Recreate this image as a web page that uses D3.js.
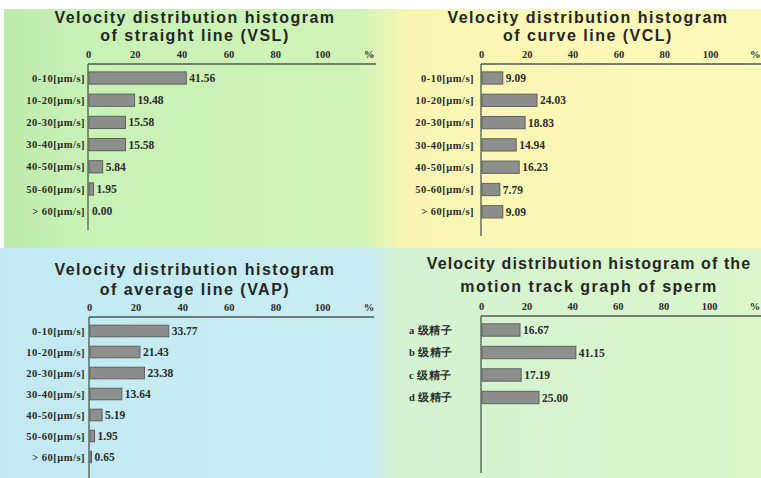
<!DOCTYPE html>
<html lang="en">
<head>
<meta charset="utf-8">
<title>Velocity distribution histograms</title>
<script src="https://cdn.jsdelivr.net/npm/d3@7"></script>
<style>
  body { margin: 0; background: #fff; }
  svg { display: block; }
  .title { font-family: "Liberation Sans", Arial, sans-serif; font-weight: bold; fill: #262626; }
  .tick-lbl, .cat-lbl, .val-lbl { font-family: "Liberation Serif", "Times New Roman", serif; fill: #2b2b2b; }
</style>
</head>
<body>
<div id="chart"></div>
<script>
// bins shared by VSL / VCL / VAP
var speedBins = ["0-10[μm/s]", "10-20[μm/s]", "20-30[μm/s]", "30-40[μm/s]", "40-50[μm/s]", "50-60[μm/s]", "> 60[μm/s]"];
var vslValues = [41.56, 19.48, 15.58, 15.58, 5.84, 1.95, 0.00];
var vclValues = [9.09, 24.03, 18.83, 14.94, 16.23, 7.79, 9.09];
var vapValues = [33.77, 21.43, 23.38, 13.64, 5.19, 1.95, 0.65];
var gradeLabels = ["a 级精子", "b 级精子", "c 级精子", "d 级精子"];
var gradeValues = [16.67, 41.15, 17.19, 25.00];
var tickValues = [0, 20, 40, 60, 80, 100, 120];   // last tick drawn as "%"

var w = 761, h = 478;

var svg = d3.select("#chart").append("svg")
  .attr("width", w)
  .attr("height", h);

// backgrounds (soft gradients between quadrants)
var defs = svg.append("defs");
var gTop = defs.append("linearGradient").attr("id", "bgTop").attr("x1", 0).attr("x2", 1);
gTop.append("stop").attr("offset", "0%").attr("stop-color", "#bdebab");
gTop.append("stop").attr("offset", "10%").attr("stop-color", "#c8f1b6");
gTop.append("stop").attr("offset", "47%").attr("stop-color", "#cff3b6");
gTop.append("stop").attr("offset", "53%").attr("stop-color", "#f9f6b4");
gTop.append("stop").attr("offset", "100%").attr("stop-color", "#fdf9b9");
var gBot = defs.append("linearGradient").attr("id", "bgBot").attr("x1", 0).attr("x2", 1);
gBot.append("stop").attr("offset", "0%").attr("stop-color", "#c2e9f3");
gBot.append("stop").attr("offset", "49%").attr("stop-color", "#c8ecf1");
gBot.append("stop").attr("offset", "52%").attr("stop-color", "#d4f2d2");
gBot.append("stop").attr("offset", "100%").attr("stop-color", "#daf6ca");

svg.append("rect").attr("x", 4).attr("y", 9).attr("width", w - 4).attr("height", 240).attr("fill", "url(#bgTop)");
svg.append("rect").attr("x", 0).attr("y", 248).attr("width", w).attr("height", h - 248).attr("fill", "url(#bgBot)");

var panels = [
  { title: ["Velocity distribution histogram", "of straight line (VSL)"], titleX: 195, titleY: [23, 41],
    cats: speedBins, vals: vslValues, x0: 88, x100: 322, axisY: 64, axisEnd: 376, c0: 78, step: 22.2, vEnd: 230, labelX: 85, anchor: "end" },
  { title: ["Velocity distribution histogram", "of curve line (VCL)"], titleX: 588, titleY: [23, 41],
    cats: speedBins, vals: vclValues, x0: 481, x100: 710, axisY: 64, axisEnd: 761, c0: 78, step: 22.3, vEnd: 236, labelX: 474, anchor: "end" },
  { title: ["Velocity distribution histogram", "of average line (VAP)"], titleX: 195, titleY: [275, 295],
    cats: speedBins, vals: vapValues, x0: 89, x100: 322, axisY: 317, axisEnd: 374, c0: 331, step: 21, vEnd: 478, labelX: 85, anchor: "end" },
  { title: ["Velocity distribution histogram of the", "motion track graph of sperm"], titleX: 589, titleY: [269, 292],
    cats: gradeLabels, vals: gradeValues, x0: 481, x100: 709, axisY: 316, axisEnd: 761, c0: 330, step: 22.5, vEnd: 473, labelX: 409, anchor: "start" }
];

panels.forEach(function(p) {
  var g = svg.append("g");

  var x = d3.scaleLinear()
    .domain([0, 100])
    .range([p.x0, p.x100]);

  var y = d3.scaleBand()
    .domain(p.cats)
    .range([p.c0 - p.step / 2, p.c0 - p.step / 2 + p.cats.length * p.step])
    .paddingInner(0.45)
    .paddingOuter(0.225);

  // title, two lines
  g.selectAll("text.title")
    .data(p.title)
    .enter().append("text")
    .attr("class", "title")
    .attr("x", p.titleX)
    .attr("y", function(d, i) { return p.titleY[i]; })
    .attr("text-anchor", "middle")
    .attr("font-size", 16)
    .attr("letter-spacing", function(d) { return d.length > 32 ? 1.1 : 1.5; })
    .text(function(d) { return d; });

  // top axis
  var axis = d3.axisTop(x)
    .tickValues(tickValues)
    .tickSize(0)
    .tickPadding(6)
    .tickFormat(function(d) { return d === 120 ? "%" : d; });

  var ax = g.append("g")
    .attr("transform", "translate(0," + p.axisY + ")")
    .call(axis);
  ax.select(".domain").remove();
  ax.selectAll("text")
    .attr("class", "tick-lbl")
    .attr("font-size", 10.5)
    .attr("font-weight", "bold")
    .attr("fill", "#2b2b2b");
  // keep the "%" inside the page at the right edge
  ax.selectAll(".tick").filter(function(d) { return d === 120 && x(d) + 6 > w; })
    .select("text")
    .attr("text-anchor", "end")
    .attr("x", w - 1 - x(120));

  g.append("line")
    .attr("x1", p.x0).attr("x2", p.axisEnd)
    .attr("y1", p.axisY).attr("y2", p.axisY)
    .attr("stroke", "#4d5a50").attr("stroke-width", 1.6);
  g.append("line")
    .attr("x1", p.x0).attr("x2", p.x0)
    .attr("y1", p.axisY).attr("y2", p.vEnd)
    .attr("stroke", "#4d5a50").attr("stroke-width", 1.3);

  var rows = p.cats.map(function(c, i) { return { cat: c, val: p.vals[i] }; });

  g.selectAll("rect.bar")
    .data(rows)
    .enter().append("rect")
    .attr("class", "bar")
    .attr("x", x(0) + 1)
    .attr("y", function(d) { return y(d.cat); })
    .attr("width", function(d) { return Math.max(0, x(d.val) - x(0)); })
    .attr("height", y.bandwidth())
    .attr("fill", "#8d8f8d")
    .attr("stroke", "#5e615e")
    .attr("stroke-width", 1);

  g.selectAll("text.val-lbl")
    .data(rows)
    .enter().append("text")
    .attr("class", "val-lbl")
    .attr("x", function(d) { return x(d.val) + 4; })
    .attr("y", function(d) { return y(d.cat) + y.bandwidth() / 2; })
    .attr("dy", "0.35em")
    .attr("font-size", 11.5)
    .attr("font-weight", "bold")
    .text(function(d) { return d.val.toFixed(2); });

  g.selectAll("text.cat-lbl")
    .data(rows)
    .enter().append("text")
    .attr("class", "cat-lbl")
    .attr("x", p.labelX)
    .attr("y", function(d) { return y(d.cat) + y.bandwidth() / 2; })
    .attr("dy", "0.35em")
    .attr("text-anchor", p.anchor)
    .attr("font-size", 10.5)
    .attr("letter-spacing", 0.5)
    .attr("font-weight", "bold")
    .text(function(d) { return d.cat; });
});
</script>
</body>
</html>
